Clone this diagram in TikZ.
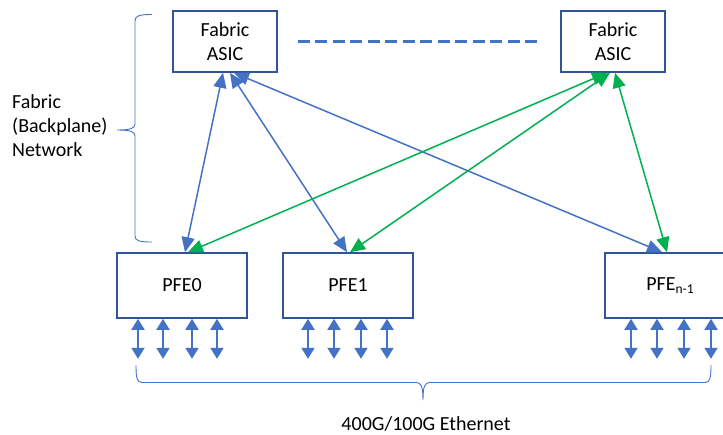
\documentclass[tikz,border=0pt]{standalone}
\usepackage{fontspec}
\setmainfont{Carlito}
\usetikzlibrary{arrows.meta,calc}
\definecolor{lnblue}{HTML}{4472C4}
\definecolor{lngreen}{HTML}{00B050}
\definecolor{boxblue}{HTML}{2F5597}
\begin{document}
\begin{tikzpicture}[x=1pt,y=-1pt,
  font=\fontsize{20}{24}\selectfont,
  asicbox/.style={draw=boxblue,line width=1.6pt,minimum width=104pt,minimum height=61pt,inner sep=0pt,align=center},
  pfebox/.style={draw=boxblue,line width=1.6pt,minimum width=130pt,minimum height=65pt,inner sep=0pt,align=center},
  bluelink/.style={draw=lnblue,line width=1.5pt,{Triangle[length=15pt,width=13pt]}-{Triangle[length=15pt,width=13pt]}},
  greenlink/.style={draw=lngreen,line width=1.5pt,{Triangle[length=15pt,width=13pt]}-{Triangle[length=15pt,width=13pt]}},
  port/.style={draw=lnblue,line width=1.9pt,{Triangle[length=11pt,width=13pt]}-{Triangle[length=11pt,width=13pt]}},
  bracestyle/.style={draw=lnblue,line width=0.9pt},
  dashlink/.style={draw=lnblue,line width=2.2pt,dash pattern=on 12pt off 5.5pt}]
\useasboundingbox (0,0) rectangle (723,434);

\node[asicbox] (asic1) at (225,41.5) {Fabric\\ASIC};
\node[asicbox] (asic2) at (613,41.5) {Fabric\\ASIC};
\node[pfebox] (pfe0) at (182,285.5) {PFE0};
\node[pfebox] (pfe1) at (348,285.5) {PFE1};
\node[pfebox] (pfen) at (670,285.5) {PFE\raisebox{-0.35ex}{\fontsize{13.5}{13.5}\selectfont n-1}};

\node[anchor=west,align=left,inner sep=0pt] (fabnet) at (12,126) {Fabric\\(Backplane)\\Network};
\node[inner sep=0pt] (eth) at (426,423.5) {400G/100G Ethernet};

\draw[dashlink] ([xshift=20pt]asic1.east) -- ([xshift=-18pt]asic2.west);

\draw[bluelink] ([xshift=-2pt]asic1.south) -- ([xshift=3pt]pfe0.north);
\draw[bluelink] ([xshift=5pt]asic1.south) -- ([xshift=-1pt]pfe1.north);
\draw[bluelink] ([xshift=9pt]asic1.south) -- ([xshift=-8pt]pfen.north);
\draw[greenlink] ([xshift=-6pt]asic2.south) -- ([xshift=6pt]pfe0.north);
\draw[greenlink] ([xshift=-3pt]asic2.south) -- ([xshift=2pt]pfe1.north);
\draw[greenlink] ([xshift=2pt]asic2.south) -- ([xshift=-3pt]pfen.north);

\foreach \dx in {-44,-19,10,35} \draw[port] ([xshift=\dx pt]pfe0.south) -- ++(0,40);
\foreach \dx in {-40,-14,13,39} \draw[port] ([xshift=\dx pt]pfe1.south) -- ++(0,40);
\foreach \dx in {-39,-13,14,41} \draw[port] ([xshift=\dx pt]pfen.south) -- ++(0,40);

% left brace
\draw[bracestyle] (152,14.5) .. controls (140,14.5) and (135,15.5) .. (135,21)
  -- (135,124) .. controls (135,128.5) and (130,130) .. (117,130)
  .. controls (130,130) and (135,131.5) .. (135,136)
  -- (135,236) .. controls (135,241) and (140,242) .. (152,242);
% bottom brace
\draw[bracestyle] (136,365) .. controls (136,378) and (137,382.5) .. (142,382.5)
  -- (416,382.5) .. controls (421,382.5) and (423,386) .. (423,400)
  .. controls (423,386) and (425,382.5) .. (430,382.5)
  -- (705,382.5) .. controls (710,382.5) and (711,378) .. (711,365);
\end{tikzpicture}
\end{document}
